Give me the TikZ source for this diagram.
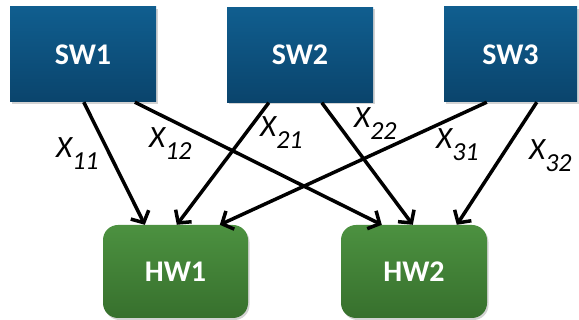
\documentclass[tikz,border=0pt]{standalone}
\usepackage{fontspec}
\setmainfont{Carlito}
\usetikzlibrary{arrows.meta,shadows,calc}

\definecolor{swtop}{HTML}{105E8F}
\definecolor{swbot}{HTML}{0A446C}
\definecolor{hwtop}{HTML}{4C9140}
\definecolor{hwbot}{HTML}{37702D}

\tikzset{
  swbox/.style={rectangle, top color=swtop, bottom color=swbot, draw=none,
    minimum width=146pt, minimum height=95pt, inner sep=0pt,
    text=white, font=\fontsize{30}{30}\selectfont\bfseries,
    drop shadow={shadow xshift=1.5pt, shadow yshift=-2pt, opacity=0.35}},
  hwbox/.style={rectangle, rounded corners=15pt, top color=hwtop, bottom color=hwbot, draw=none,
    minimum width=145pt, minimum height=93pt, inner sep=0pt,
    text=white, font=\fontsize{30}{30}\selectfont\bfseries,
    drop shadow={shadow xshift=1.5pt, shadow yshift=-2pt, opacity=0.35}},
  link/.style={line width=3.5pt, -{Straight Barb[length=9pt,width=20pt,line width=3.5pt]}},
  lbl/.style={anchor=base west, inner sep=0pt, font=\fontsize{31}{31}\selectfont\itshape}
}
\newcommand{\xsub}[1]{X\raisebox{-11.5pt}{\fontsize{26}{26}\selectfont\itshape #1}}

\begin{document}
\begin{tikzpicture}[x=1pt,y=-1pt]
  \useasboundingbox (0,0) rectangle (579,320);

  % software blocks
  \node[swbox] (sw1) at (83,54.5) {SW1};
  \node[swbox] (sw2) at (300,55) {SW2};
  \node[swbox, minimum width=133pt] (sw3) at (510.5,54.5) {SW3};

  % hardware blocks
  \node[hwbox] (hw1) at (175.5,271.5) {HW1};
  \node[hwbox, minimum width=146pt] (hw2) at (414,271.5) {HW2};

  % connector end points on block edges
  \coordinate (s11) at ([xshift=74pt]sw1.south west);
  \coordinate (s12) at ([xshift=125pt]sw1.south west);
  \coordinate (s21) at ([xshift=42pt]sw2.south west);
  \coordinate (s22) at ([xshift=95pt]sw2.south west);
  \coordinate (s31) at ([xshift=43pt]sw3.south west);
  \coordinate (s32) at ([xshift=93pt]sw3.south west);

  \coordinate (h1a) at ([xshift=42pt]hw1.north west);
  \coordinate (h1b) at ([xshift=74pt]hw1.north west);
  \coordinate (h1c) at ([xshift=117pt]hw1.north west);
  \coordinate (h2a) at ([xshift=41pt]hw2.north west);
  \coordinate (h2b) at ([xshift=72pt]hw2.north west);
  \coordinate (h2c) at ([xshift=116pt]hw2.north west);

  % assignments
  \draw[link] (s11) -- (h1a);
  \draw[link] (s12) -- (h2a);
  \draw[link] (s21) -- (h1b);
  \draw[link] (s22) -- (h2b);
  \draw[link] (s31) -- (h1c);
  \draw[link] (s32) -- (h2c);

  % variable labels
  \node[lbl] (x11) at (56,158) {\xsub{11}};
  \node[lbl] (x12) at (149,148) {\xsub{12}};
  \node[lbl] (x21) at (260,137) {\xsub{21}};
  \node[lbl] (x22) at (354,128) {\xsub{22}};
  \node[lbl] (x31) at (436,149) {\xsub{31}};
  \node[lbl] (x32) at (529,160) {\xsub{32}};
\end{tikzpicture}
\end{document}
